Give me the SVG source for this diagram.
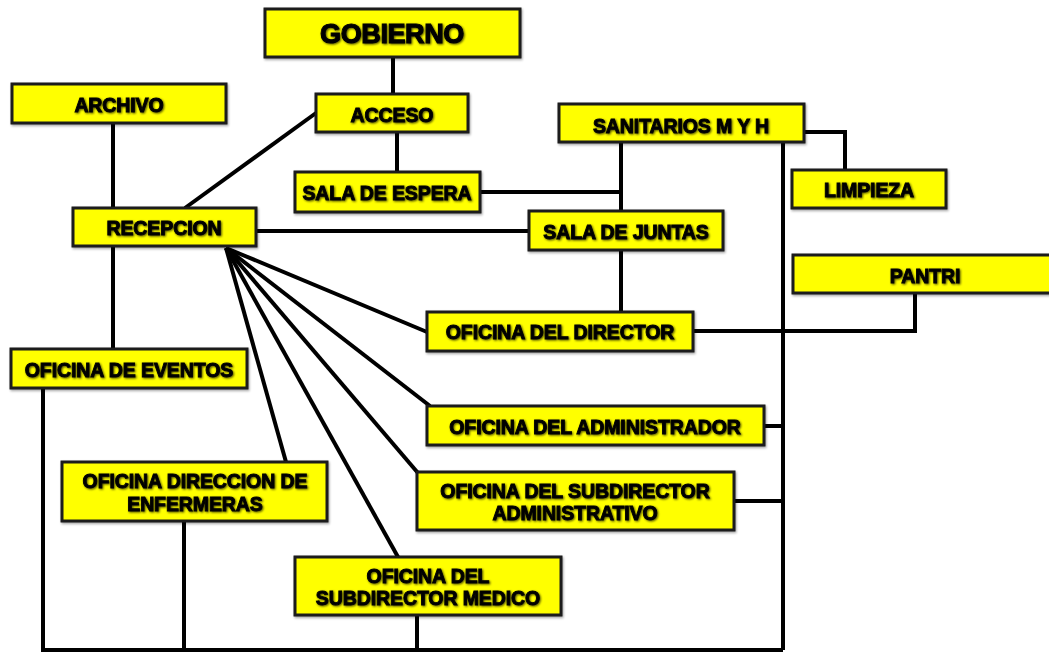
<svg xmlns="http://www.w3.org/2000/svg" width="1049" height="652" viewBox="0 0 1049 652">
<defs>
<filter id="ts" x="-10%" y="-30%" width="120%" height="160%">
<feDropShadow dx="1" dy="1" stdDeviation="1" flood-color="#000" flood-opacity="0.7"/>
</filter>
<filter id="bs" x="-5%" y="-10%" width="110%" height="130%">
<feDropShadow dx="1" dy="1.5" stdDeviation="1" flood-color="#000" flood-opacity="0.35"/>
</filter>
</defs>
<style>
.box{fill:#FFFF00;stroke:#1a1a1a;stroke-width:3;filter:url(#bs)}
.t{font-family:"Liberation Sans",Arial,sans-serif;font-weight:bold;font-size:19.5px;fill:#000;stroke:#000;stroke-width:0.9;text-anchor:middle;letter-spacing:-0.1px;filter:url(#ts)}
.big{font-size:27px;stroke-width:1.1;letter-spacing:-0.4px}
.c{fill:none;stroke:#000;stroke-width:4;stroke-linejoin:miter}
</style>
<rect width="1049" height="652" fill="#fff"/>
<g id="connectors">
<path class="c" d="M393 57V94"/>
<path class="c" d="M397 132V172"/>
<path class="c" d="M316 113L185 208"/>
<path class="c" d="M113 123V208"/>
<path class="c" d="M113 246V349"/>
<path class="c" d="M256 231H529"/>
<path class="c" d="M480 192H621"/>
<path class="c" d="M621 142V211"/>
<path class="c" d="M621 251V312"/>
<path class="c" d="M804 132H845V170"/>
<path class="c" d="M693 331H915V293"/>
<path class="c" d="M783 142V650"/>
<path class="c" d="M764 426H783"/>
<path class="c" d="M734 501H783"/>
<path class="c" d="M43 388V650H783"/>
<path class="c" d="M184 521V650"/>
<path class="c" d="M417 615V650"/>
<path class="c" d="M226 248L427 332"/>
<path class="c" d="M226 248L430 406"/>
<path class="c" d="M226 248L418 473"/>
<path class="c" d="M226 248L398 557"/>
<path class="c" d="M226 248L286 462"/>
</g>
<g id="gobierno"><rect class="box" x="265" y="9" width="255" height="48"/><text class="t big" x="392" y="43">GOBIERNO</text></g>
<g id="archivo"><rect class="box" x="12" y="84" width="214" height="39"/><text class="t" x="119" y="112">ARCHIVO</text></g>
<g id="acceso"><rect class="box" x="316" y="94" width="152" height="38"/><text class="t" x="392" y="122">ACCESO</text></g>
<g id="sanitarios"><rect class="box" x="559" y="104" width="245" height="38"/><text class="t" x="681" y="133">SANITARIOS M Y H</text></g>
<g id="sala-espera"><rect class="box" x="295" y="172" width="185" height="40"/><text class="t" x="387" y="200">SALA DE ESPERA</text></g>
<g id="limpieza"><rect class="box" x="792" y="170" width="154" height="38"/><text class="t" x="869" y="197">LIMPIEZA</text></g>
<g id="recepcion"><rect class="box" x="73" y="208" width="183" height="38"/><text class="t" x="164" y="235">RECEPCION</text></g>
<g id="sala-juntas"><rect class="box" x="529" y="211" width="194" height="39"/><text class="t" x="626" y="239">SALA DE JUNTAS</text></g>
<g id="pantri"><rect class="box" x="793" y="255" width="270" height="38"/><text class="t" x="925" y="283">PANTRI</text></g>
<g id="director"><rect class="box" x="427" y="312" width="266" height="39"/><text class="t" x="560" y="339">OFICINA DEL DIRECTOR</text></g>
<g id="eventos"><rect class="box" x="11" y="349" width="236" height="39"/><text class="t" x="129" y="377">OFICINA DE EVENTOS</text></g>
<g id="administrador"><rect class="box" x="427" y="406" width="337" height="39"/><text class="t" x="595" y="434">OFICINA DEL ADMINISTRADOR</text></g>
<g id="enfermeras"><rect class="box" x="62" y="462" width="265" height="59"/><text class="t" x="195" y="488">OFICINA DIRECCION DE</text><text class="t" x="195" y="511">ENFERMERAS</text></g>
<g id="subdirector-admin"><rect class="box" x="417" y="472" width="317" height="58"/><text class="t" x="575" y="498">OFICINA DEL SUBDIRECTOR</text><text class="t" x="575" y="520">ADMINISTRATIVO</text></g>
<g id="subdirector-medico"><rect class="box" x="295" y="557" width="266" height="58"/><text class="t" x="428" y="583">OFICINA DEL</text><text class="t" x="428" y="605">SUBDIRECTOR MEDICO</text></g>
</svg>
